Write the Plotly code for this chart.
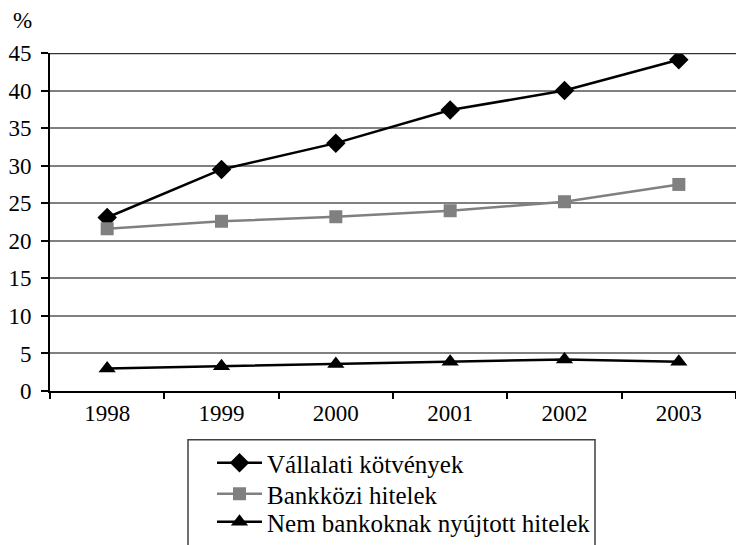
import plotly.graph_objects as go

years = ["1998", "1999", "2000", "2001", "2002", "2003"]
vallalati = [23.1, 29.5, 33.0, 37.4, 40.0, 44.1]
bankkozi = [21.6, 22.6, 23.2, 24.0, 25.2, 27.5]
nem_bank = [3.0, 3.3, 3.6, 3.9, 4.2, 3.9]

series_names = ["Vállalati kötvények", "Bankközi hitelek", "Nem bankoknak nyújtott hitelek"]

FONT = "Liberation Serif"
TICK_SIZE = 23
LEGEND_SIZE = 25

fig = go.Figure()
fig.add_trace(go.Scatter(
    x=years, y=vallalati, name=series_names[0], mode="lines+markers",
    line=dict(color="#000000", width=2.5),
    marker=dict(symbol="diamond", size=15, color="#000000"),
    legend="legend", showlegend=True,
))
fig.add_trace(go.Scatter(
    x=years, y=bankkozi, name=series_names[1], mode="lines+markers",
    line=dict(color="#808080", width=2.5),
    marker=dict(symbol="square", size=13, color="#808080"),
    legend="legend2", showlegend=True,
))
fig.add_trace(go.Scatter(
    x=years, y=nem_bank, name=series_names[2], mode="lines+markers",
    line=dict(color="#000000", width=2.5),
    marker=dict(symbol="triangle-up", size=15, color="#000000"),
    legend="legend3", showlegend=True,
))

legend_common = dict(
    xref="paper", yref="paper", xanchor="left", yanchor="middle",
    bgcolor="rgba(0,0,0,0)", borderwidth=0,
    font=dict(family=FONT, size=LEGEND_SIZE, color="#000000"),
    itemwidth=45,
)

# plot area: x 50..736 px, y 53..392 px
def py(px):
    return (392 - px) / 339.0

def px_x(px):
    return (px - 50) / 686.0

fig.update_layout(
    width=736, height=545,
    margin=dict(l=50, r=0, t=53, b=153),
    paper_bgcolor="white", plot_bgcolor="white",
    showlegend=True,
    font=dict(family=FONT, size=TICK_SIZE, color="#000000"),
    legend=dict(x=px_x(212), y=py(463), **legend_common),
    legend2=dict(x=px_x(212), y=py(494), **legend_common),
    legend3=dict(x=px_x(212), y=py(524), **legend_common),
    xaxis=dict(
        type="category", range=[-0.5, 5.5],
        showgrid=False, showline=True, linecolor="#000000", linewidth=2,
        ticks="outside", tickson="boundaries", ticklen=6, tickcolor="#000000", tickwidth=1.5,
        tickfont=dict(family=FONT, size=TICK_SIZE, color="#000000"),
    ),
    yaxis=dict(
        range=[0, 45], dtick=5, tick0=0,
        showgrid=True, gridcolor="#808080", gridwidth=1.5,
        showline=True, linecolor="#000000", linewidth=2,
        ticks="outside", ticklen=7, tickcolor="#000000", tickwidth=1.5,
        ticklabelstandoff=5,
        tickfont=dict(family=FONT, size=TICK_SIZE, color="#000000"),
        zeroline=False,
    ),
    shapes=[
        # top frame line
        dict(type="line", xref="paper", yref="y", x0=0, x1=1, y0=45, y1=45,
             line=dict(color="#333333", width=2.5)),
        # legend box
        dict(type="rect", xref="paper", yref="paper",
             x0=px_x(188), x1=px_x(595), y0=py(560), y1=py(441),
             line=dict(color="#404040", width=1.5), fillcolor="rgba(0,0,0,0)"),
    ],
    annotations=[
        dict(text="%", xref="paper", yref="paper", x=px_x(22), y=py(20),
             showarrow=False, font=dict(family=FONT, size=TICK_SIZE, color="#000000"),
             xanchor="center", yanchor="middle"),
    ],
)

fig.write_html("out.html")
